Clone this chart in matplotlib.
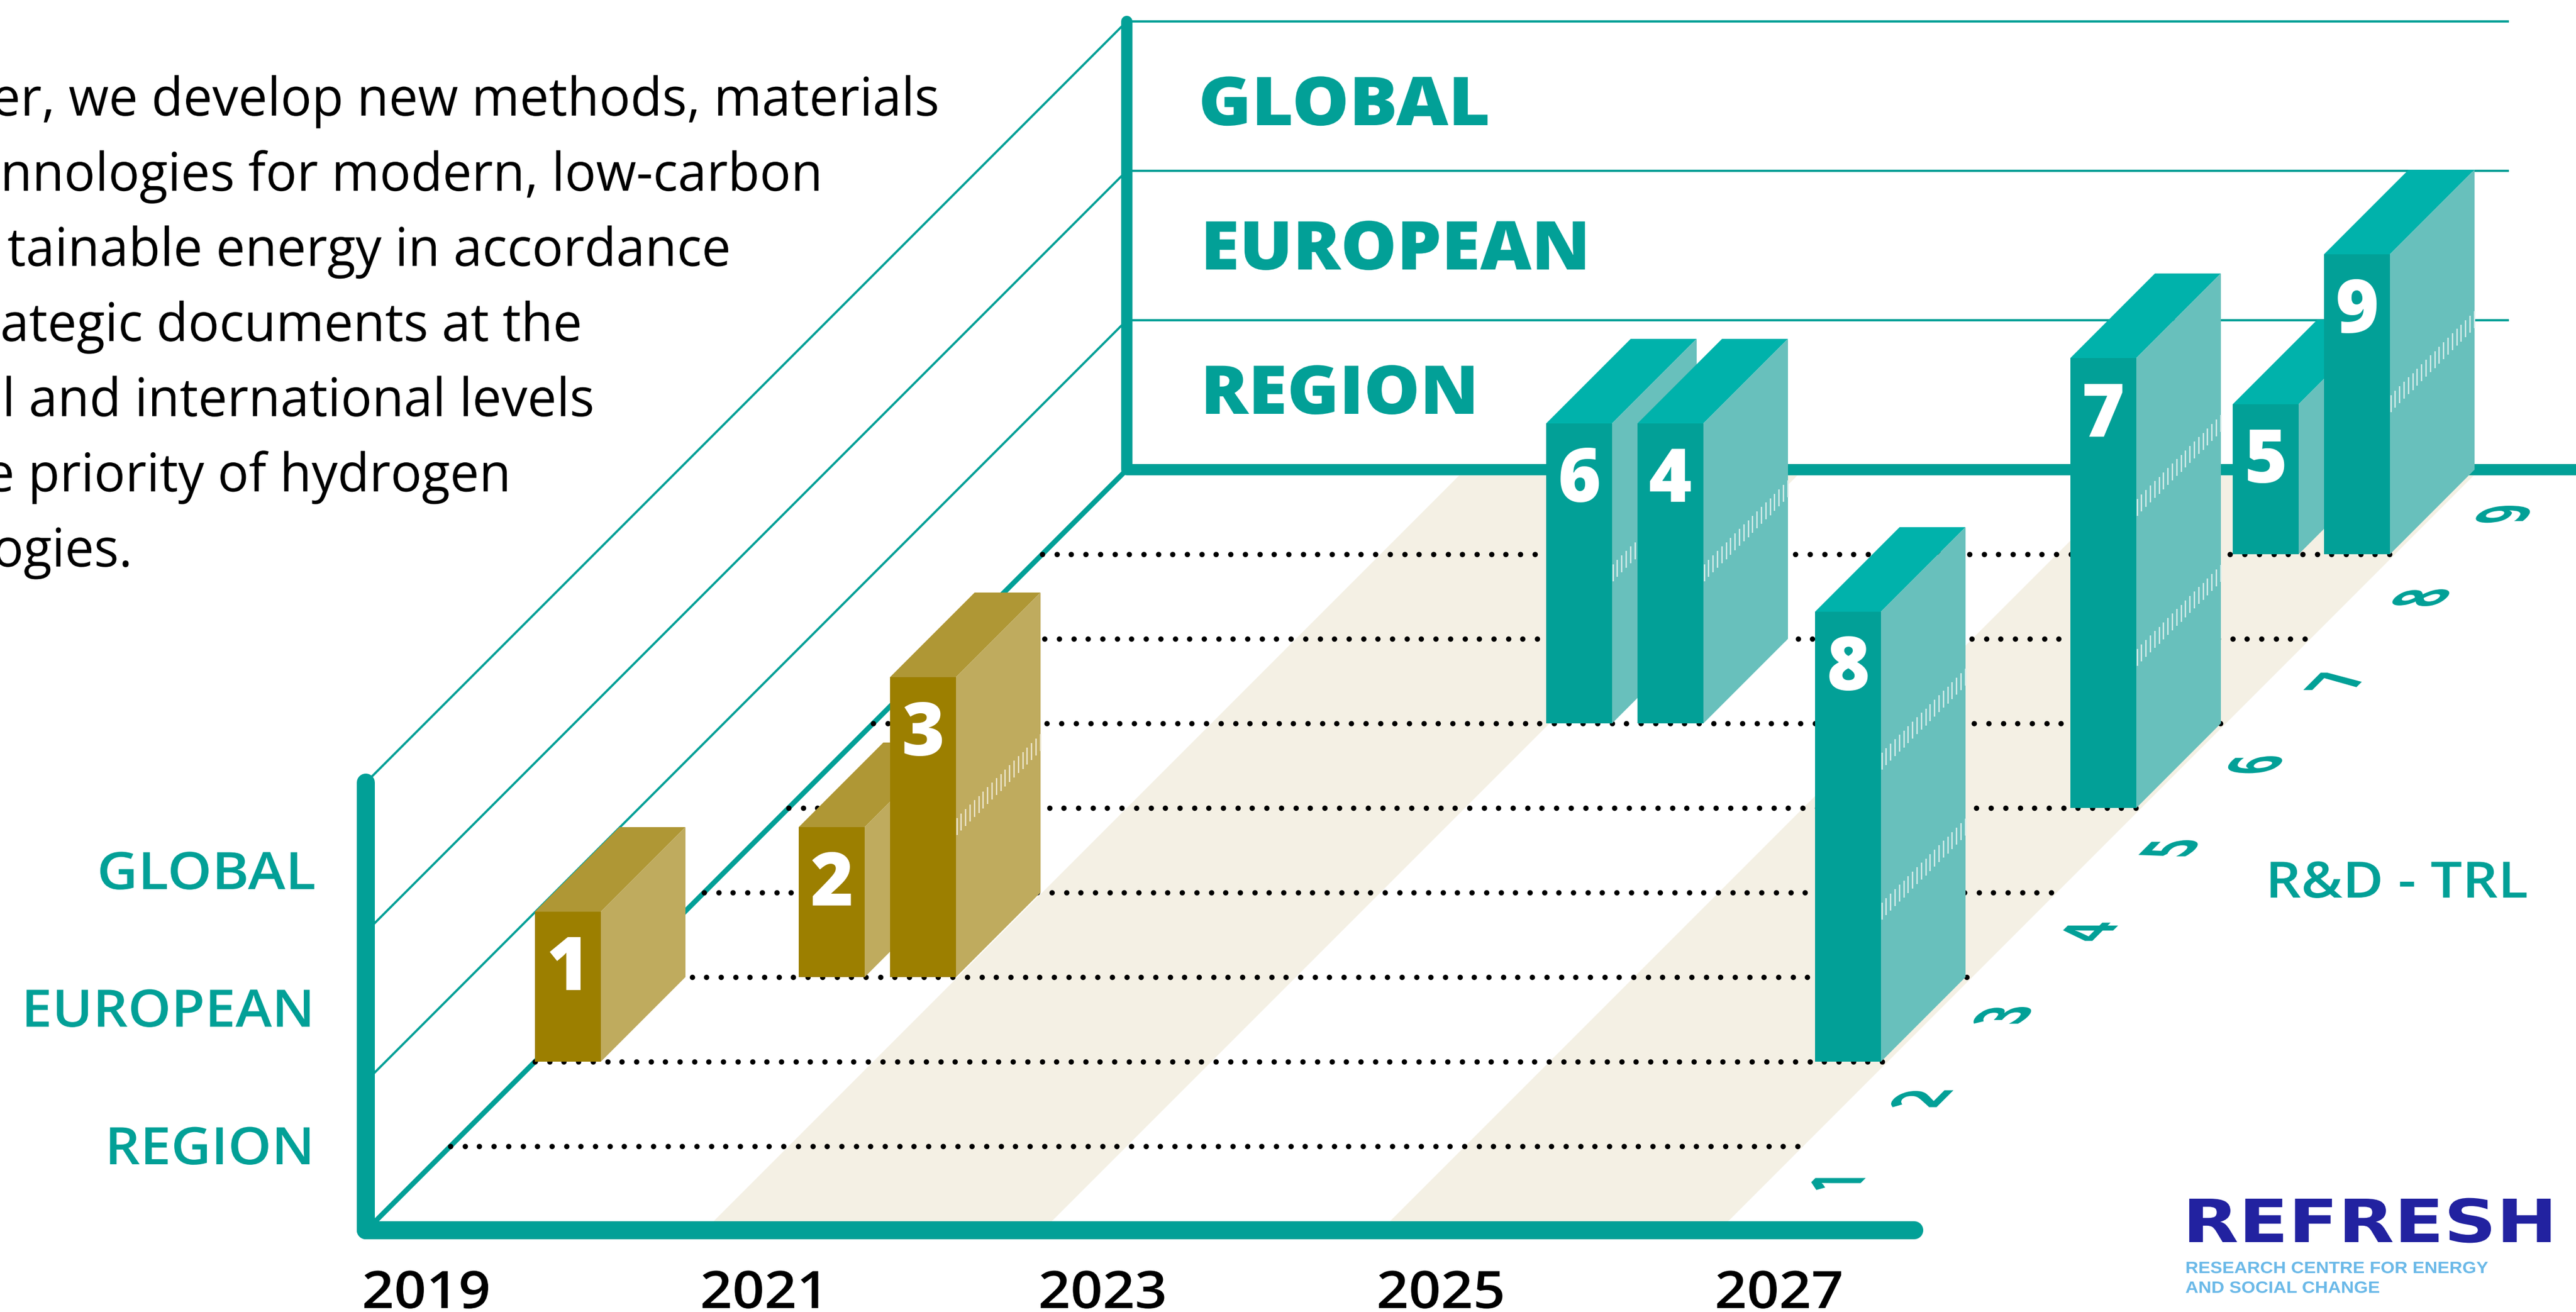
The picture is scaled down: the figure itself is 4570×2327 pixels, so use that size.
import numpy as np
import matplotlib
matplotlib.use('Agg')
import matplotlib.pyplot as plt
import matplotlib.patheffects as pe
from matplotlib.collections import LineCollection
from matplotlib.patches import Polygon
from matplotlib.transforms import Affine2D

# values
years = [2019, 2021, 2023, 2025, 2027]
trl_levels = [1, 2, 3, 4, 5, 6, 7, 8, 9]
scope_labels = ['REGION', 'EUROPEAN', 'GLOBAL']
bar_ids = [1, 2, 3, 4, 5, 6, 7, 8, 9]
bar_year = [2019.0, 2020.06, 2020.6, 2023.52, 2026.04, 2022.98, 2026.58, 2026.57, 2026.58]
bar_trl = [3, 4, 4, 7, 9, 7, 6, 3, 9]
bar_scope = [1, 1, 2, 2, 1, 2, 3, 3, 2]
bar_group = ['gold', 'gold', 'gold', 'teal', 'teal', 'teal', 'teal', 'teal', 'teal']
bar_span = 0.39

body_lines = ['er, we develop new methods, materials',
              'nnologies for modern, low-carbon',
              'tainable energy in accordance',
              'ategic documents at the',
              'l and international levels',
              'e priority of hydrogen',
              'ogies.']

TEAL = '#02A097'
BEIGE = '#F4F0E4'
colors = {'teal': ('#02A097', '#00B2AB', '#68C0BC', '#D8EDEB'),
          'gold': ('#9C7F00', '#AF9735', '#BFAB5E', '#EDE7CF')}

W, H = 4570, 2327
X0, Y0 = 649, 2183
YEAR_W = 300
ROW = 150
LEVEL = 266
WALL = 265


def px(v):
    return v * 0.72


def proj(year, row, level=0, level_h=LEVEL):
    x = X0 + (year - 2019) * YEAR_W + row * ROW
    y = Y0 - row * ROW - level * level_h
    return x, y


class Warp(pe.AbstractPathEffect):
    # applies a matrix to the glyphs around an anchor, for the floor digits and stretched text
    def __init__(self, matrix, anchor):
        super().__init__()
        self.matrix = matrix
        self.anchor = anchor

    def draw_path(self, renderer, gc, tpath, affine, rgbFace=None):
        ax_, ay_ = self.anchor
        extra = Affine2D().translate(-ax_, -ay_) + Affine2D(self.matrix) + Affine2D().translate(ax_, ay_)
        renderer.draw_path(gc, tpath, affine + extra, rgbFace)


fig = plt.figure(figsize=(W / 100, H / 100), dpi=100)
ax = fig.add_axes([0, 0, 1, 1])
ax.set_xlim(0, W)
ax.set_ylim(H, 0)
ax.axis('off')
renderer = fig.canvas.get_renderer()


def stretch(t, x, y, sx):
    t.set_path_effects([Warp(np.array([[sx, 0, 0], [0, 1, 0], [0, 0, 1]]), (x, H - y))])


def fit_text(x, y, s, width, ha='left', **kw):
    # text stretched sideways to the measured width (the original is letter spaced)
    t = ax.text(x, y, s, ha=ha, va='baseline', **kw)
    stretch(t, x, y, width / t.get_window_extent(renderer).width)
    return t


# floor bands
for a, b in [(years[1], years[2]), (years[3], years[4])]:
    pts = [proj(a, 0), proj(b, 0), proj(b, 9), proj(a, 9)]
    ax.add_patch(Polygon(pts, closed=True, fc=BEIGE, ec='none', zorder=1))

# wall lines
for lev in range(4):
    x1, y1 = proj(2019, 0, lev, WALL)
    x2, y2 = proj(2019, 9, lev, WALL)
    ax.plot([x1, x2], [y1, y2], color=TEAL, lw=px(9 if lev == 0 else 4), zorder=2)
    if lev > 0:
        ax.plot([x2, 4451], [y2, y2], color=TEAL, lw=px(4), zorder=2, solid_capstyle='butt')

# dotted rows
for k in range(1, 9):
    x1, y1 = proj(2019, k)
    x2, y2 = proj(2027, k)
    xs = np.arange(x1, x2 + 1, 25.7)
    ax.plot(xs, np.full(len(xs), y1), 'o', color='black', ms=px(9.5), mew=0, zorder=3)

# axes
x1, y1 = proj(2019, 0)
ax.plot([x1, x1], [y1 - 1, proj(2019, 0, 3, WALL)[1]], color=TEAL, lw=px(32), solid_capstyle='round', zorder=4)
ax.plot([x1, 3396], [y1 - 1, y1 - 1], color=TEAL, lw=px(32), solid_capstyle='round', zorder=4)
x2, y2 = proj(2019, 9)
ax.plot([x2, x2], [y2, proj(2019, 9, 3, WALL)[1]], color=TEAL, lw=px(20), solid_capstyle='round', zorder=4)
ax.plot([x2, W], [y2, y2], color=TEAL, lw=px(20), solid_capstyle='butt', zorder=4)

# bars, back rows first
order = sorted(range(len(bar_ids)), key=lambda i: (-bar_trl[i], bar_year[i]))
z = 5
for i in order:
    row = bar_trl[i] - 1
    yr = bar_year[i]
    lev = bar_scope[i]
    front, top, side, stripe = colors[bar_group[i]]
    yr2 = yr + bar_span
    ax.add_patch(Polygon([proj(yr, row), proj(yr2, row), proj(yr2, row, lev), proj(yr, row, lev)],
                         fc=front, ec='none', zorder=z))
    ax.add_patch(Polygon([proj(yr, row, lev), proj(yr2, row, lev), proj(yr2, row + 1, lev), proj(yr, row + 1, lev)],
                         fc=top, ec='none', zorder=z))
    ax.add_patch(Polygon([proj(yr2, row), proj(yr2, row + 1), proj(yr2, row + 1, lev), proj(yr2, row, lev)],
                         fc=side, ec='none', zorder=z))
    for m in range(1, lev):
        segs = []
        for d in np.arange(1.5, ROW, 7.8):
            xs, ys = proj(yr2, row + d / ROW, m)
            segs.append([(xs, ys - 15), (xs, ys + 15)])
        ax.add_collection(LineCollection(segs, colors=stripe, linewidths=px(2.4), capstyle='butt', zorder=z))
    xc = proj(yr + bar_span / 2, row)[0]
    yt = proj(yr, row, lev)[1]
    ax.text(xc, yt + 139, str(bar_ids[i]), color='white', family='Open Sans', weight=800,
            fontsize=94, ha='center', va='baseline', zorder=z)
    z += 1

# year labels
for yr in years:
    fit_text(proj(yr, 0)[0] - 7, 2320, str(yr), 228, color='black', family='Open Sans', weight=600,
             fontsize=66, zorder=20)

# scope labels on the front of the wall
for s, yb, rx, wd in zip(scope_labels, [2065, 1821, 1577], [558, 558, 560], [372, 520, 388]):
    fit_text(rx, yb, s, wd, ha='right', color=TEAL, family='Open Sans', weight=600, fontsize=66, zorder=20)

# scope labels on the back wall
for s, yb, lx, wd in zip(scope_labels, [734, 478, 222], [2130, 2130, 2126], [494, 692, 518]):
    fit_text(lx, yb, s, wd, color=TEAL, family='Open Sans', weight=800, fontsize=86, zorder=20)

# TRL digits lying on the floor
a, b = 0.72, 1.5
mat = np.array([[a, -b, 0], [a, 0, 0], [0, 0, 1]])
for t in trl_levels:
    k = 0.573 + (t - 1) * 0.9875
    xd, yd = proj(2027.45, k)
    tx = ax.text(xd, yd, str(t), color=TEAL, family='Open Sans', weight=700, fontsize=60,
                 ha='center', va='center', zorder=20)
    tx.set_path_effects([Warp(mat, (xd, H - yd))])

fit_text(4019, 1592, 'R&D - TRL', 466, color=TEAL, family='Open Sans', weight=600, fontsize=64, zorder=20)

# body text, cut off at the left edge in the original
right_ends = [1669, 1462, 1299, 1034, 1057, 908, 235]
for n, (s, rx) in enumerate(zip(body_lines, right_ends)):
    yb = 205 + n * 133.3
    t = ax.text(rx, yb, s, color='black', family='Open Sans', fontsize=68,
                ha='right', va='baseline', zorder=20)
    stretch(t, rx, yb, 0.975)

# logo
fit_text(3872, 2203, 'REFRESH', 664, color='#2222A0', family='DejaVu Sans', weight='bold', fontsize=76, zorder=20)
fit_text(3877, 2258, 'RESEARCH CENTRE FOR ENERGY', 538, color='#6BB9E8', family='Liberation Sans', weight='bold', fontsize=21, zorder=20)
fit_text(3877, 2293, 'AND SOCIAL CHANGE', 345, color='#6BB9E8', family='Liberation Sans', weight='bold', fontsize=21, zorder=20)

fig.savefig('out.png', dpi=100, facecolor='white')
